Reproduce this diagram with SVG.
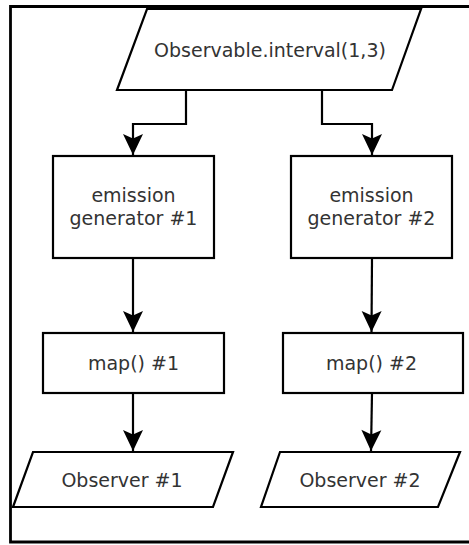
<svg xmlns="http://www.w3.org/2000/svg" width="469" height="545" viewBox="0 0 469 545">
<defs>
<marker id="ah" markerUnits="userSpaceOnUse" markerWidth="24" markerHeight="24" viewBox="-22 -12 24 24" refX="0" refY="0" orient="auto">
<path d="M0,0 L-21,-10 L-16.5,0 L-21,10 Z" fill="#000"/>
</marker>
<style>
.shape{fill:#fff;stroke:#000;stroke-width:2.2}
.lbl{font-family:"DejaVu Sans",sans-serif;font-size:19px;fill:#333;text-anchor:middle}
.conn{fill:none;stroke:#000;stroke-width:2.2}
</style>
</defs>
<rect width="469" height="545" fill="#fff"/>
<g id="frame">
<path d="M469,6.5 L10.5,6.5 L10.5,542 L469,542" fill="none" stroke="#000" stroke-width="2.8"/>
</g>
<g id="source">
<polygon class="shape" points="147,9 421,9 392,90 117,90"/>
<text class="lbl" x="270" y="57">Observable.interval(1,3)</text>
</g>
<g id="gen1">
<rect class="shape" x="53" y="156" width="161" height="102"/>
<text class="lbl" x="133.5" y="202">emission</text>
<text class="lbl" x="133.5" y="225">generator #1</text>
</g>
<g id="gen2">
<rect class="shape" x="291" y="156" width="161" height="102"/>
<text class="lbl" x="371.5" y="202">emission</text>
<text class="lbl" x="371.5" y="225">generator #2</text>
</g>
<g id="map1">
<rect class="shape" x="43" y="333" width="181" height="60"/>
<text class="lbl" x="133.5" y="370">map() #1</text>
</g>
<g id="map2">
<rect class="shape" x="283" y="333" width="180" height="60"/>
<text class="lbl" x="371.5" y="370">map() #2</text>
</g>
<g id="obs1">
<polygon class="shape" points="33,452 233,452 213,507 13,507"/>
<text class="lbl" x="122" y="487">Observer #1</text>
</g>
<g id="obs2">
<polygon class="shape" points="280,452 460,452 438,507 261,507"/>
<text class="lbl" x="360" y="487">Observer #2</text>
</g>
<g id="connectors">
<path class="conn" d="M186,90 V124 H133 V155" marker-end="url(#ah)"/>
<path class="conn" d="M322,90 V124 H372 V155" marker-end="url(#ah)"/>
<path class="conn" d="M133,258 V332" marker-end="url(#ah)"/>
<path class="conn" d="M372,258 L371.5,332" marker-end="url(#ah)"/>
<path class="conn" d="M133,393 V451" marker-end="url(#ah)"/>
<path class="conn" d="M372,393 L371,451" marker-end="url(#ah)"/>
</g>
</svg>
